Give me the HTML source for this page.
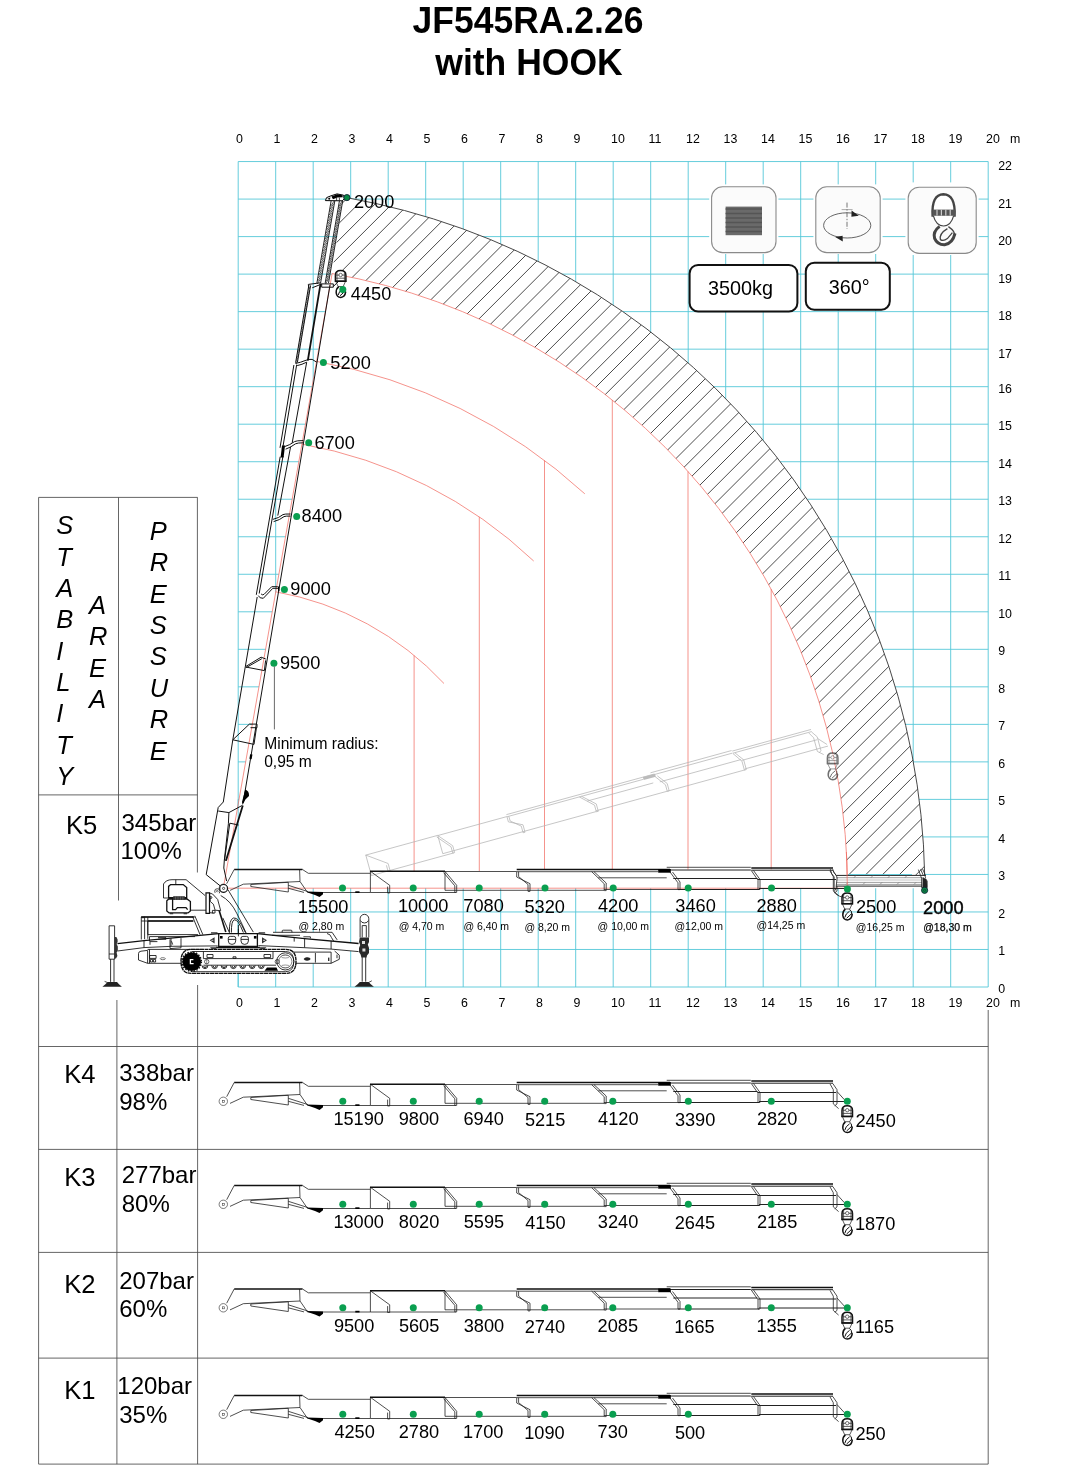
<!DOCTYPE html>
<html><head><meta charset="utf-8"><title>JF545RA.2.26 with HOOK</title>
<style>
html,body{margin:0;padding:0;background:#fff;}
body{width:1080px;height:1467px;overflow:hidden;font-family:"Liberation Sans",sans-serif;}
svg{display:block;will-change:transform;font-family:"Liberation Sans",sans-serif;}
</style></head><body>
<svg width="1080" height="1467" viewBox="0 0 1080 1467">
<rect width="1080" height="1467" fill="#fff"/>
<g font-weight="bold" font-size="35.5" text-anchor="middle" fill="#000" transform="translate(0,-0.6) scale(1,1.025)"><text x="528" y="32.9">JF545RA.2.26</text><text x="529" y="73.3">with HOOK</text></g>
<path d="M238.20 161.56V987.00M275.70 161.56V987.00M313.20 161.56V987.00M350.70 161.56V987.00M388.20 161.56V987.00M425.70 161.56V987.00M463.20 161.56V987.00M500.70 161.56V987.00M538.20 161.56V987.00M575.70 161.56V987.00M613.20 161.56V987.00M650.70 161.56V987.00M688.20 161.56V987.00M725.70 161.56V987.00M763.20 161.56V987.00M800.70 161.56V987.00M838.20 161.56V987.00M875.70 161.56V987.00M913.20 161.56V987.00M950.70 161.56V987.00M988.20 161.56V987.00M238.20 987.00H988.20M238.20 949.48H988.20M238.20 911.96H988.20M238.20 874.44H988.20M238.20 836.92H988.20M238.20 799.40H988.20M238.20 761.88H988.20M238.20 724.36H988.20M238.20 686.84H988.20M238.20 649.32H988.20M238.20 611.80H988.20M238.20 574.28H988.20M238.20 536.76H988.20M238.20 499.24H988.20M238.20 461.72H988.20M238.20 424.20H988.20M238.20 386.68H988.20M238.20 349.16H988.20M238.20 311.64H988.20M238.20 274.12H988.20M238.20 236.60H988.20M238.20 199.08H988.20M238.20 161.56H988.20" stroke="#55c7d8" stroke-width="0.9" fill="none"/>
<g font-size="12.4" fill="#000"><text x="236.1" y="142.7">0</text><text x="236.1" y="1006.5">0</text><text x="273.6" y="142.7">1</text><text x="273.6" y="1006.5">1</text><text x="311.1" y="142.7">2</text><text x="311.1" y="1006.5">2</text><text x="348.6" y="142.7">3</text><text x="348.6" y="1006.5">3</text><text x="386.1" y="142.7">4</text><text x="386.1" y="1006.5">4</text><text x="423.6" y="142.7">5</text><text x="423.6" y="1006.5">5</text><text x="461.1" y="142.7">6</text><text x="461.1" y="1006.5">6</text><text x="498.6" y="142.7">7</text><text x="498.6" y="1006.5">7</text><text x="536.1" y="142.7">8</text><text x="536.1" y="1006.5">8</text><text x="573.6" y="142.7">9</text><text x="573.6" y="1006.5">9</text><text x="611.1" y="142.7">10</text><text x="611.1" y="1006.5">10</text><text x="648.6" y="142.7">11</text><text x="648.6" y="1006.5">11</text><text x="686.1" y="142.7">12</text><text x="686.1" y="1006.5">12</text><text x="723.6" y="142.7">13</text><text x="723.6" y="1006.5">13</text><text x="761.1" y="142.7">14</text><text x="761.1" y="1006.5">14</text><text x="798.6" y="142.7">15</text><text x="798.6" y="1006.5">15</text><text x="836.1" y="142.7">16</text><text x="836.1" y="1006.5">16</text><text x="873.6" y="142.7">17</text><text x="873.6" y="1006.5">17</text><text x="911.1" y="142.7">18</text><text x="911.1" y="1006.5">18</text><text x="948.6" y="142.7">19</text><text x="948.6" y="1006.5">19</text><text x="986.1" y="142.7">20</text><text x="986.1" y="1006.5">20</text><text x="1010" y="142.7">m</text><text x="1010" y="1006.5">m</text><text x="998.2" y="992.6">0</text><text x="998.2" y="954.7">1</text><text x="998.2" y="917.5">2</text><text x="998.2" y="879.7">3</text><text x="998.2" y="842.6">4</text><text x="998.2" y="804.7">5</text><text x="998.2" y="767.6">6</text><text x="998.2" y="729.7">7</text><text x="998.2" y="692.6">8</text><text x="998.2" y="654.7">9</text><text x="998.2" y="617.7">10</text><text x="998.2" y="580.4">11</text><text x="998.2" y="542.9">12</text><text x="998.2" y="504.7">13</text><text x="998.2" y="467.7">14</text><text x="998.2" y="430.2">15</text><text x="998.2" y="392.9">16</text><text x="998.2" y="357.7">17</text><text x="998.2" y="319.8">18</text><text x="998.2" y="282.6">19</text><text x="998.2" y="244.8">20</text><text x="998.2" y="207.6">21</text><text x="998.2" y="169.8">22</text></g>
<path d="M223.3 888.2L332.12 273.56L342.6 199.0L345.60 197.44A701.5 701.5 0 0 1 924.80 888.20L223.3 888.2Z" fill="#fff"/>
<path d="M238.20 799.40V987.00" stroke="#55c7d8" stroke-width="0.9" fill="none"/>
<clipPath id="hc"><path d="M332.12 273.56L342.6 199.0L345.60 197.44A701.5 701.5 0 0 1 924.68 875.00L847.36 875.00A624.2 624.2 0 0 0 332.12 273.56Z"/></clipPath>
<path clip-path="url(#hc)" d="M-438.7 900L311.3 150M-421.9 900L328.1 150M-405.1 900L344.9 150M-388.2 900L361.8 150M-371.4 900L378.6 150M-354.6 900L395.4 150M-337.7 900L412.3 150M-320.9 900L429.1 150M-304.1 900L445.9 150M-287.2 900L462.8 150M-270.4 900L479.6 150M-253.6 900L496.4 150M-236.8 900L513.2 150M-219.9 900L530.1 150M-203.1 900L546.9 150M-186.3 900L563.7 150M-169.4 900L580.6 150M-152.6 900L597.4 150M-135.8 900L614.2 150M-119.0 900L631.0 150M-102.1 900L647.9 150M-85.3 900L664.7 150M-68.5 900L681.5 150M-51.6 900L698.4 150M-34.8 900L715.2 150M-18.0 900L732.0 150M-1.1 900L748.9 150M15.7 900L765.7 150M32.5 900L782.5 150M49.3 900L799.3 150M66.2 900L816.2 150M83.0 900L833.0 150M99.8 900L849.8 150M116.7 900L866.7 150M133.5 900L883.5 150M150.3 900L900.3 150M167.2 900L917.2 150M184.0 900L934.0 150M200.8 900L950.8 150M217.6 900L967.6 150M234.5 900L984.5 150M251.3 900L1001.3 150M268.1 900L1018.1 150M285.0 900L1035.0 150M301.8 900L1051.8 150M318.6 900L1068.6 150M335.5 900L1085.5 150M352.3 900L1102.3 150M369.1 900L1119.1 150M386.0 900L1136.0 150M402.8 900L1152.8 150M419.6 900L1169.6 150M436.4 900L1186.4 150M453.3 900L1203.3 150M470.1 900L1220.1 150M486.9 900L1236.9 150M503.8 900L1253.8 150M520.6 900L1270.6 150M537.4 900L1287.4 150M554.2 900L1304.2 150M571.1 900L1321.1 150M587.9 900L1337.9 150M604.7 900L1354.7 150M621.6 900L1371.6 150M638.4 900L1388.4 150M655.2 900L1405.2 150M672.1 900L1422.1 150M688.9 900L1438.9 150M705.7 900L1455.7 150M722.5 900L1472.5 150M739.4 900L1489.4 150M756.2 900L1506.2 150M773.0 900L1523.0 150M789.9 900L1539.9 150M806.7 900L1556.7 150M823.5 900L1573.5 150M840.4 900L1590.4 150M857.2 900L1607.2 150M874.0 900L1624.0 150M890.8 900L1640.8 150M907.7 900L1657.7 150M924.5 900L1674.5 150M941.3 900L1691.3 150" stroke="#2a2a2a" stroke-width="0.85" fill="none"/>
<path d="M345.60 197.44A701.5 701.5 0 0 1 924.68 875.00" stroke="#333" stroke-width="0.9" fill="none"/>
<path d="M223.3 888.2L332.12 273.56M223.3 888.2H847.4M332.12 273.56A624.2 624.2 0 0 1 847.50 889.00M316.57 361.39A535.0 535.0 0 0 1 584.80 493.81M301.93 444.11A451.0 451.0 0 0 1 533.70 561.01M275.78 591.81A301.0 301.0 0 0 1 444.00 683.52M414.10 655.40V871.0M479.30 516.90V871.0M544.50 460.35V869.4M612.30 400.04V869.4M688.00 471.45V869.4M771.20 589.15V869.4" stroke="#f0645a" stroke-width="0.7" fill="none"/>
<path d="M38.6 497.4V1464.1M38.6 497.4H197.6M38.6 794.9H197.6M118.5 497.4V900.5M197.4 497.4V872.5M116.9 1000V1464.1M197.6 985V1464.1M988.2 1010V1464.1M38.6 1046.5H988.2M38.6 1149.4H988.2M38.6 1252.4H988.2M38.6 1358.1H988.2M38.6 1464.1H988.2" stroke="#4a4a4a" stroke-width="0.85" fill="none"/>
<g font-size="25.5" font-style="italic" fill="#000"><text x="56.2" y="534.4">S</text><text x="56.2" y="565.7">T</text><text x="56.2" y="597.0">A</text><text x="56.2" y="628.3">B</text><text x="56.2" y="659.6">I</text><text x="56.2" y="690.9">L</text><text x="56.2" y="722.2">I</text><text x="56.2" y="753.5">T</text><text x="56.2" y="784.8">Y</text><text x="89" y="614.2">A</text><text x="89" y="645.4">R</text><text x="89" y="676.5">E</text><text x="89" y="707.7">A</text><text x="149.8" y="540.0">P</text><text x="149.8" y="571.4">R</text><text x="149.8" y="602.7">E</text><text x="149.8" y="634.0">S</text><text x="149.8" y="665.4">S</text><text x="149.8" y="696.8">U</text><text x="149.8" y="728.1">R</text><text x="149.8" y="759.5">E</text></g>
<g font-size="24" fill="#000"><text x="65.9" y="834.1" font-size="25.6">K5</text><text x="121.5" y="830.7">345bar</text><text x="120.5" y="859.3">100%</text><text x="64.2" y="1083.1" font-size="25.6">K4</text><text x="119.2" y="1080.5">338bar</text><text x="119.2" y="1109.6">98%</text><text x="64.2" y="1186.0" font-size="25.6">K3</text><text x="121.7" y="1183.0">277bar</text><text x="121.7" y="1211.9">80%</text><text x="64.2" y="1292.6" font-size="25.6">K2</text><text x="119.2" y="1288.5">207bar</text><text x="119.2" y="1317.0">60%</text><text x="64.2" y="1398.5" font-size="25.6">K1</text><text x="117.3" y="1394.4">120bar</text><text x="119.2" y="1422.7">35%</text></g>
<defs><g id="boom"><path d="M226.7 1096.7L234.2 1082.5M302.5 1082.5L308.3 1086.3H370.3M299.6 1082.5L300 1094.5L307.5 1105.4M230 1103.4L243.3 1097.2L300 1094.5M250.8 1097.5L288.3 1095.3V1105L250.8 1099.5ZM288.3 1098.3L308 1104.6M288.3 1101.3L304 1105.4M307.5 1105.5H370.4M370.4 1105.5H455.8M370.4 1084.3V1105.5M370.4 1084.3L389.7 1098.3V1106H387.6V1099.6M445 1084.5H516.7M445 1084.5V1103.3M445 1084.5L456.7 1098.3V1105.4H454.8V1098.8L443.6 1085.6M445 1103.3H604M516.7 1084.7H658M516.7 1084.7V1090L530 1096.7V1104.4H528V1097.5L518.6 1089.6V1084.7M591.7 1084.7L604.2 1096.7V1103.6H606.2V1096L594 1084.7M598.3 1090.8H666.7M604 1102.5H678M666.7 1080.3H750.8M670 1085L678 1095.8V1102.6H680V1095L672.5 1085M751.3 1083.5L758 1093.3V1102.5H760V1092.5L753.5 1083.5M830 1083.9L833.3 1089.7V1103.9L838.6 1108.6M832.8 1083.5L837 1089.7V1103.9L834.8 1105.8M837 1091.5L844.4 1099.7" stroke="#222" stroke-width="0.8" fill="none"/><path d="M670 1083H750.8M673.3 1091.5H757.5M678 1102.5H759M751.3 1083.2H833M758 1092.5H836M759 1101.5H845" stroke="#222" stroke-width="1" fill="none"/><path d="M234.2 1082.5H302.5M370 1084.3H445M516.7 1082.5H670M751.3 1081H833" stroke="#111" stroke-width="1.4" fill="none"/><circle cx="223.3" cy="1101.3" r="4.2" stroke="#444" stroke-width="0.7" fill="#fff"/><rect x="222.3" y="1100.3" width="2" height="2" stroke="#444" stroke-width="0.6" fill="none"/><path d="M306.5 1104.6L323 1105V1107.2L319.5 1110L315 1108L309 1106Z" fill="#000"/><rect x="355.3" y="1104.3" width="4.2" height="1.7" fill="#000"/><rect x="658.2" y="1082" width="12.6" height="3.7" fill="#000"/></g><g id="hook"><path d="M842 1116.4V1110.6Q842 1105.8 847.2 1105.8Q852.5 1105.8 852.5 1110.6V1116.4Z" stroke="#111" stroke-width="1.5" fill="#fff"/><path d="M842 1110.3H852.5M842 1113.4H852.5M842.3 1116.4L844.7 1121.7H849.8L852.2 1116.4M843.6 1107.5V1116M851 1107.5V1116" stroke="#333" stroke-width="0.8" fill="none"/><path d="M841.6 1116.4H852.9" stroke="#111" stroke-width="1.3"/><circle cx="847.2" cy="1110.2" r="1.7" stroke="#333" stroke-width="0.7" fill="#fff"/><path d="M845.4 1121.9Q842.6 1124 842.8 1128Q843.4 1132.4 847.4 1132.6Q851.6 1132.2 852.2 1127.4L851.4 1126.2" stroke="#111" stroke-width="1.5" fill="none"/><path d="M849.4 1122Q852 1123.4 851.6 1126.4L846.6 1131M849.6 1123.8Q845.4 1126.4 844.8 1130.2" stroke="#111" stroke-width="1" fill="none"/></g></defs>
<g font-size="18.2" fill="#000"><use href="#boom" y="0"/><use href="#hook" y="0"/><circle cx="342.8" cy="1101.3" r="3.5" fill="#0a9f50"/><circle cx="413.3" cy="1101.3" r="3.5" fill="#0a9f50"/><circle cx="479.2" cy="1101.3" r="3.5" fill="#0a9f50"/><circle cx="544.7" cy="1101.3" r="3.5" fill="#0a9f50"/><circle cx="612.8" cy="1101.3" r="3.5" fill="#0a9f50"/><circle cx="688.3" cy="1101.3" r="3.5" fill="#0a9f50"/><circle cx="771.3" cy="1101.3" r="3.5" fill="#0a9f50"/><circle cx="847.3" cy="1101.3" r="3.5" fill="#0a9f50"/><text x="333.4" y="1125.2">15190</text><text x="398.7" y="1125.2">9800</text><text x="463.5" y="1125.2">6940</text><text x="524.9" y="1126.2">5215</text><text x="598.1" y="1125.2">4120</text><text x="674.9" y="1126.2">3390</text><text x="756.9" y="1125.2">2820</text><text x="855.4" y="1126.9">2450</text><use href="#boom" y="103.0"/><use href="#hook" y="103.0"/><circle cx="342.8" cy="1204.3" r="3.5" fill="#0a9f50"/><circle cx="413.3" cy="1204.3" r="3.5" fill="#0a9f50"/><circle cx="479.2" cy="1204.3" r="3.5" fill="#0a9f50"/><circle cx="544.7" cy="1204.3" r="3.5" fill="#0a9f50"/><circle cx="612.8" cy="1204.3" r="3.5" fill="#0a9f50"/><circle cx="688.3" cy="1204.3" r="3.5" fill="#0a9f50"/><circle cx="771.3" cy="1204.3" r="3.5" fill="#0a9f50"/><circle cx="847.3" cy="1204.3" r="3.5" fill="#0a9f50"/><text x="333.4" y="1228.2">13000</text><text x="398.8" y="1228.2">8020</text><text x="463.7" y="1228.2">5595</text><text x="525.2" y="1229.2">4150</text><text x="597.8" y="1228.2">3240</text><text x="674.7" y="1229.2">2645</text><text x="756.9" y="1228.2">2185</text><text x="854.9" y="1229.9">1870</text><use href="#boom" y="206.5"/><use href="#hook" y="206.5"/><circle cx="342.8" cy="1307.8" r="3.5" fill="#0a9f50"/><circle cx="413.3" cy="1307.8" r="3.5" fill="#0a9f50"/><circle cx="479.2" cy="1307.8" r="3.5" fill="#0a9f50"/><circle cx="544.7" cy="1307.8" r="3.5" fill="#0a9f50"/><circle cx="612.8" cy="1307.8" r="3.5" fill="#0a9f50"/><circle cx="688.3" cy="1307.8" r="3.5" fill="#0a9f50"/><circle cx="771.3" cy="1307.8" r="3.5" fill="#0a9f50"/><circle cx="847.3" cy="1307.8" r="3.5" fill="#0a9f50"/><text x="333.9" y="1331.7">9500</text><text x="398.9" y="1331.7">5605</text><text x="463.7" y="1331.7">3800</text><text x="524.7" y="1332.7">2740</text><text x="597.6" y="1331.7">2085</text><text x="674.2" y="1332.7">1665</text><text x="756.4" y="1331.7">1355</text><text x="854.9" y="1333.4">1165</text><use href="#boom" y="313.0"/><use href="#hook" y="313.0"/><circle cx="342.8" cy="1414.3" r="3.5" fill="#0a9f50"/><circle cx="413.3" cy="1414.3" r="3.5" fill="#0a9f50"/><circle cx="479.2" cy="1414.3" r="3.5" fill="#0a9f50"/><circle cx="544.7" cy="1414.3" r="3.5" fill="#0a9f50"/><circle cx="612.8" cy="1414.3" r="3.5" fill="#0a9f50"/><circle cx="688.3" cy="1414.3" r="3.5" fill="#0a9f50"/><circle cx="847.3" cy="1414.3" r="3.5" fill="#0a9f50"/><text x="334.4" y="1438.2">4250</text><text x="398.7" y="1438.2">2780</text><text x="463.0" y="1438.2">1700</text><text x="524.2" y="1439.2">1090</text><text x="597.6" y="1438.2">730</text><text x="674.9" y="1439.2">500</text><text x="855.4" y="1439.9">250</text></g>
<g transform="translate(365.8,855.1) rotate(-15.35) translate(-370.4,-1084.3)"><path d="M370.4 1105.5H455.8M370.4 1084.3V1105.5M370.4 1084.3L389.7 1098.3V1106H387.6V1099.6M445 1084.5H516.7M445 1084.5V1103.3M445 1084.5L456.7 1098.3V1105.4H454.8V1098.8L443.6 1085.6M445 1103.3H604M516.7 1084.7H658M516.7 1084.7V1090L530 1096.7V1104.4H528V1097.5L518.6 1089.6V1084.7M591.7 1084.7L604.2 1096.7V1103.6H606.2V1096L594 1084.7M598.3 1090.8H666.7M604 1102.5H678M666.7 1080.3H750.8M670 1085L678 1095.8V1102.6H680V1095L672.5 1085M751.3 1083.5L758 1093.3V1102.5H760V1092.5L753.5 1083.5M830 1083.9L833.3 1089.7V1103.9L838.6 1108.6M832.8 1083.5L837 1089.7V1103.9L834.8 1105.8M837 1091.5L844.4 1099.7M670 1083H750.8M673.3 1091.5H757.5M678 1102.5H759M751.3 1083.2H833M758 1092.5H836M759 1101.5H845M370 1084.3H445M516.7 1082.5H670M751.3 1081H833" stroke="#b4b4b4" stroke-width="0.7" fill="none"/><rect x="658.2" y="1082.4" width="12.6" height="3" fill="#bbb"/></g>
<g transform="translate(-14.6,-352.8)" opacity="0.6"><use href="#hook"/></g>
<g font-size="18.2" fill="#000"><use href="#boom" y="-213.0"/><g><rect x="836.2" y="875.3" width="89.7" height="10.8" fill="#fff"/><path d="M836.2 877.7H924M836.2 882.4H922M836.2 884.4H922" stroke="#777" stroke-width="0.7" fill="none"/><path d="M836.2 880H924" stroke="#aaa" stroke-width="0.7" fill="none"/><path d="M836.2 875.4H925.9M836 886.1H922" stroke="#222" stroke-width="1" fill="none"/><path d="M846 884.4l2-2M863 884.4l2-2M880 884.4l2-2M897 884.4l2-2M914 884.4l2-2M854 877.7l2-2.3M871 877.7l2-2.3M888 877.7l2-2.3M905 877.7l2-2.3" stroke="#666" stroke-width="0.6"/><path d="M832.8 869.2Q833.5 873 836.4 875.6L837.2 878L836.2 886.1V888.5L834 891.6Q836 895.5 842.6 897.2M830.3 869.2Q831 874 834.2 877V889.8" stroke="#222" stroke-width="0.8" fill="none"/><path d="M918.4 869.6L921.6 878.4L924.6 880M920.6 869.3L923.4 875.6M922.6 869L924.8 874L925.6 878.6M921.6 878.4V887.6H927.2V880.6" stroke="#222" stroke-width="0.8" fill="none"/><path d="M923.2 877.5L926.8 879.5L927.2 888H922.4L922.6 881Z" fill="#222"/></g><path d="M848.5 874.5H912" stroke="#55c7d8" stroke-width="0.9"/><path d="M846.4 852Q847 872 847.4 888" stroke="#f0645a" stroke-width="0.7" fill="none"/><use href="#hook" y="-212.7"/><circle cx="342.5" cy="888" r="3.5" fill="#0a9f50"/><circle cx="413.2" cy="888" r="3.5" fill="#0a9f50"/><circle cx="479.2" cy="888" r="3.5" fill="#0a9f50"/><circle cx="545" cy="888" r="3.5" fill="#0a9f50"/><circle cx="613.2" cy="888" r="3.5" fill="#0a9f50"/><circle cx="688.2" cy="888" r="3.5" fill="#0a9f50"/><circle cx="771.5" cy="888" r="3.5" fill="#0a9f50"/><circle cx="847.4" cy="889" r="3.5" fill="#0a9f50"/><circle cx="924.6" cy="890.3" r="3.1" fill="#0a8a45" stroke="#123" stroke-width="0.9"/><circle cx="924.6" cy="890.3" r="1.1" fill="none" stroke="#123" stroke-width="0.5"/><text x="297.8" y="912.7">15500</text><text x="298.5" y="930.0" font-size="10.5">@ 2,80 m</text><text x="397.9" y="912.3">10000</text><text x="398.7" y="930.0" font-size="10.5">@ 4,70 m</text><text x="463.3" y="912.3">7080</text><text x="463.4" y="930.0" font-size="10.5">@ 6,40 m</text><text x="524.5" y="913.3">5320</text><text x="524.4" y="930.7" font-size="10.5">@ 8,20 m</text><text x="598.0" y="912.3">4200</text><text x="597.6" y="930.0" font-size="10.5">@ 10,00 m</text><text x="675.3" y="912.3">3460</text><text x="674.4" y="930.0" font-size="10.5">@12,00 m</text><text x="756.5" y="911.8">2880</text><text x="756.6" y="929.4" font-size="10.5">@14,25 m</text><text x="855.9" y="913.3">2500</text><text x="855.8" y="931.0" font-size="10.5">@16,25 m</text><g stroke="#111" stroke-width="0.45"><text x="923.1" y="913.6">2000</text></g><g stroke="#111" stroke-width="0.25"><text x="923.2" y="931.0" font-size="10.5">@18,30 m</text></g></g>
<path d="M330.0 285.0L243.1 803.0M308.9 285.0L295.6 362.8M310.6 285.4L297.4 362.4M293.9 365.0L280.0 447.8M296.7 364.6L282.9 447.0M280.2 456.7L256.3 594.8M283.0 456.0L259.2 593.5M257.2 597.0L245.3 666.7M245.3 666.7L232.8 739.8M232.8 739.8L223.3 802.0M306.7 362.2L292.2 442.8M290.6 446.7L277.8 515.6M308.9 288.4L308.3 284.4L320.6 282.8M312.2 287.8L321.7 284M321.7 283.9H333.3V287.2H321.7ZM333.3 286.5L340.4 279.6M295.6 363.4Q301 362.4 305 360.6T312.2 359.4L316.7 362.2M297.2 365.6Q302 364.6 306.7 362.2M284.4 446.7Q290 445 294.5 441.6Q296.5 440.5 303.3 440.6M285.6 449.2Q291 447.2 295.5 443.8Q297.5 442.8 303.3 442.8M272.8 519.4Q279 518 283 514.6Q284.6 513.8 290.6 514M273.6 521.6Q280 520 284 516.6Q285.6 515.9 290.6 516.1M258.3 595.6Q259.5 598.6 263.3 598.3L272.8 588.3H278.3M261.1 593.9Q262 595.5 264 594.4L271.7 586.7H277.8M245.6 666.6L261.1 657.2L265.8 659M246.2 667.6L261.8 658.7M245.6 667L264.4 670.6L265.6 660.4M232.8 739.8L249.4 724.1H257V727.7H250.5M232.8 739.8L254 744.4L256.4 728M223.3 802L218.2 807.5L206.2 874.6L220.6 886.2M218.2 811L228.9 812.6L241.9 805.6M228.9 812.6L228.4 823.7L224.3 860.3L223.8 868L226.6 881M229.8 823.2L238.6 825M229.8 823.2L224.5 860.3H227" stroke="#111" stroke-width="1" fill="none"/>
<path d="M320.6 283.3L307.8 360.6M242.8 805.6L226.1 860.3" stroke="#111" stroke-width="1.8" fill="none"/>
<path d="M282 445.6L285 445.6L283.6 457.4L280.6 457.4Z" fill="#000"/>
<path d="M278 586.6h1.4v4.6h-1.4z" fill="#000"/>
<path d="M245.2 789.6Q249.4 791 249 796L245.4 799.4L242.6 805L242 802Z" fill="#000"/>
<path d="M251.3 754.4L250.5 759" stroke="#000" stroke-width="2.3"/>
<path d="M331.1 201.0L316.9 283.0M334.8 201.0L320.6 283.0M339.4 201.0L325.2 283.0M342.7 201.0L328.5 283.0" stroke="#111" stroke-width="0.9" fill="none"/>
<path d="M330.8 206.0L334.5 200.5M339.1 206.0L342.4 200.5M330.2 209.0L333.9 203.5M338.5 209.0L341.8 203.5M329.7 212.0L333.4 206.5M338.0 212.0L341.3 206.5M329.2 215.0L332.9 209.5M337.5 215.0L340.8 209.5M328.7 218.0L332.4 212.5M337.0 218.0L340.3 212.5M328.2 221.0L331.9 215.5M336.5 221.0L339.8 215.5M327.6 224.0L331.3 218.5M335.9 224.0L339.2 218.5M327.1 227.0L330.8 221.5M335.4 227.0L338.7 221.5M326.6 230.0L330.3 224.5M334.9 230.0L338.2 224.5M326.1 233.0L329.8 227.5M334.4 233.0L337.7 227.5M325.6 236.0L329.3 230.5M333.9 236.0L337.2 230.5M325.0 239.0L328.7 233.5M333.3 239.0L336.6 233.5M324.5 242.0L328.2 236.5M332.8 242.0L336.1 236.5M324.0 245.0L327.7 239.5M332.3 245.0L335.6 239.5M323.5 248.0L327.2 242.5M331.8 248.0L335.1 242.5M323.0 251.0L326.7 245.5M331.3 251.0L334.6 245.5M322.4 254.0L326.1 248.5M330.7 254.0L334.0 248.5M321.9 257.0L325.6 251.5M330.2 257.0L333.5 251.5M321.4 260.0L325.1 254.5M329.7 260.0L333.0 254.5M320.9 263.0L324.6 257.5M329.2 263.0L332.5 257.5M320.4 266.0L324.1 260.5M328.7 266.0L332.0 260.5M319.8 269.0L323.5 263.5M328.1 269.0L331.4 263.5M319.3 272.0L323.0 266.5M327.6 272.0L330.9 266.5M318.8 275.0L322.5 269.5M327.1 275.0L330.4 269.5M318.3 278.0L322.0 272.5M326.6 278.0L329.9 272.5M317.8 281.0L321.5 275.5M326.1 281.0L329.4 275.5M317.2 284.0L320.9 278.5M325.5 284.0L328.8 278.5" stroke="#111" stroke-width="0.7" fill="none"/>
<path d="M308.4 290.4L310.2 286.8M307.8 293.6L309.6 290.0M307.3 296.8L309.1 293.2M306.7 300.0L308.5 296.4M306.2 303.2L308.0 299.6M305.7 306.4L307.5 302.8M305.1 309.6L306.9 306.0M304.6 312.8L306.4 309.2M304.0 316.0L305.8 312.4M303.5 319.2L305.3 315.6M302.9 322.4L304.7 318.8M302.4 325.6L304.2 322.0M301.8 328.8L303.6 325.2M301.3 332.0L303.1 328.4M300.7 335.2L302.5 331.6M300.2 338.4L302.0 334.8M299.6 341.6L301.4 338.0M299.1 344.8L300.9 341.2M298.5 348.0L300.3 344.4M298.0 351.2L299.8 347.6M297.4 354.4L299.2 350.8M296.9 357.6L298.7 354.0M296.3 360.8L298.1 357.2M295.8 364.0L297.6 360.4" stroke="#111" stroke-width="0.6" fill="none"/>
<path d="M325.4 200.6L326.6 197.6L331 195.8L337 193.9L343.6 195.2L344.4 198.8L342.2 200.8Z" stroke="#000" stroke-width="1" fill="#fff"/>
<path d="M331.4 196.6L337.2 194.2L342.4 195.2L342.8 197.2L337.4 197.6L333 199.2ZM327.2 199L330.4 197.2L330 199.8Z" fill="#000"/>
<path d="M336.6 198v2.6M339.4 197.6v3" stroke="#000" stroke-width="0.7"/>
<circle cx="217.3" cy="891.3" r="2.6" stroke="#222" stroke-width="0.8" fill="#fff"/><circle cx="217.3" cy="891.3" r="0.9" stroke="#222" stroke-width="0.6" fill="none"/>
<circle cx="223.6" cy="888.4" r="3.9" stroke="#111" stroke-width="1.2" fill="#fff"/><circle cx="223.6" cy="888.4" r="1.1" stroke="#111" stroke-width="0.7" fill="none"/>
<use href="#hook" transform="translate(-506.6,-835.2)"/>
<g font-size="18.2" fill="#000"><circle cx="346.9" cy="197.6" r="3.1" fill="#0a8a45" stroke="#123" stroke-width="0.9"/><text x="353.9" y="208.0">2000</text><circle cx="342.8" cy="289.4" r="3.5" fill="#0a9f50"/><text x="350.8" y="299.8">4450</text><circle cx="323.4" cy="362.4" r="3.5" fill="#0a9f50"/><text x="330.3" y="368.8">5200</text><circle cx="308.7" cy="442.8" r="3.5" fill="#0a9f50"/><text x="314.4" y="449.1">6700</text><circle cx="296.7" cy="516.6" r="3.5" fill="#0a9f50"/><text x="301.6" y="522.2">8400</text><circle cx="284.4" cy="589.4" r="3.5" fill="#0a9f50"/><text x="290.3" y="595.2">9000</text><circle cx="273.9" cy="663.3" r="3.5" fill="#0a9f50"/><text x="279.9" y="668.9">9500</text></g>
<path d="M274.4 666.5V729.4" stroke="#444" stroke-width="0.8"/>
<g font-size="15.6" fill="#000"><text x="264.2" y="749">Minimum radius:</text><text x="264.2" y="767.4">0,95 m</text></g>
<g><path d="M139 917H196L203 934L218.7 933.7H257.4L273 932.3H332L340 940L359 943.5V951.8L339.5 950V960L331 963.5H296V966Q296 973.6 288 973.6H189Q181 973.6 181 963.5H147L138.5 960V952L117.5 951V943.5L141 941Z" fill="#fff"/><path d="M163.5 884Q166 879.7 172 879.7H186.1L205 895.5H209.5L217 892L220 894L226 932.5H225.5L219 911L206 913.5V910.2H190.4V913H166.8V899H163.5Z" fill="#fff"/><rect x="109.1" y="925.8" width="5.5" height="56" fill="#fff"/><rect x="360.1" y="916" width="8.7" height="66" fill="#fff"/><path d="M191 949.4H286Q296 949.4 296 961.4Q296 973.4 286 973.4H191Q181 973.4 181 961.4Q181 949.4 191 949.4Z" stroke="#111" stroke-width="1.4" stroke-dasharray="4 0.5" fill="#fff"/><path d="M192 951.5H285.5Q293.8 951.5 293.8 961.6Q293.8 971.7 285.5 971.7H192" stroke="#111" stroke-width="0.85" fill="none"/><path d="M203.4 951.5V958.6M203.4 958.6H273M203.4 965.2H276M207 954.5H213V957.6H207ZM264 954.5H270.6V957.6H264ZM273 951.5V958.6M233 956.8h3v1.5h-3z" stroke="#111" stroke-width="0.85" fill="none"/><path d="M202.1 965.4A2.9 3.2 0 0 0 207.9 965.4M203.7 966A1.3 1.6 0 0 0 206.3 966M211.7 965.4A2.9 3.2 0 0 0 217.5 965.4M213.3 966A1.3 1.6 0 0 0 215.9 966M221.1 965.4A2.9 3.2 0 0 0 226.9 965.4M222.7 966A1.3 1.6 0 0 0 225.3 966M230.5 965.4A2.9 3.2 0 0 0 236.3 965.4M232.1 966A1.3 1.6 0 0 0 234.7 966M239.8 965.4A2.9 3.2 0 0 0 245.6 965.4M241.4 966A1.3 1.6 0 0 0 244.0 966M249.3 965.4A2.9 3.2 0 0 0 255.1 965.4M250.9 966A1.3 1.6 0 0 0 253.5 966M258.4 965.4A2.9 3.2 0 0 0 264.2 965.4M260.0 966A1.3 1.6 0 0 0 262.6 966" stroke="#111" stroke-width="0.9" fill="none"/><circle cx="206.7" cy="961.7" r="2.2" stroke="#222" stroke-width="0.7" fill="#fff"/><circle cx="277.3" cy="961.7" r="2.2" stroke="#222" stroke-width="0.7" fill="#fff"/><path d="M206.7 959.5V964M277.3 959.5V964" stroke="#222" stroke-width="0.5"/><path d="M264.5 970.8L267 967.6H276.5L278 970.8Z" fill="#000"/><circle cx="191.7" cy="961.7" r="9.4" fill="#000"/><circle cx="191.7" cy="961.7" r="9.6" stroke="#111" stroke-width="1.6" stroke-dasharray="1.5 1.4" fill="none"/><path d="M193.4 959.6H190.4V963.6H193.6" stroke="#fff" stroke-width="1.3" fill="none"/><circle cx="285.3" cy="961.4" r="8.6" stroke="#111" stroke-width="0.85" fill="none"/><circle cx="285.3" cy="961.4" r="6.6" stroke="#555" stroke-width="0.7" fill="none"/><ellipse cx="285.3" cy="956.6" rx="4.2" ry="1.4" stroke="#555" stroke-width="0.6" fill="none"/><ellipse cx="285.3" cy="966.4" rx="4.2" ry="1.4" stroke="#555" stroke-width="0.6" fill="none"/><path d="M218.7 933.7H257.4V946.4H218.7ZM216 947.5H260" stroke="#111" stroke-width="1.3" fill="none"/><path d="M228.3 938.2Q228.3 936.4 230.2 936.4H233.8Q235.7 936.4 235.7 938.2V941Q235.7 944.4 232 944.4Q228.3 944.4 228.3 941ZM228.3 939.4H235.7M241 938.2Q241 936.4 242.9 936.4H246.5Q248.4 936.4 248.4 938.2V941Q248.4 944.4 244.7 944.4Q241 944.4 241 941ZM241 939.4H248.4M238.4 929V936.4" stroke="#111" stroke-width="0.85" fill="none"/><rect x="220" y="936" width="2.6" height="2.6" fill="#000"/><rect x="253.9" y="936" width="2.6" height="2.6" fill="#000"/><path d="M209.6 940.3L214.6 937.2V943.4ZM267 940.3L262 937.2V943.4Z" fill="#333"/><path d="M211.4 940.3h2M263 940.3h2" stroke="#fff" stroke-width="0.8"/><path d="M210 947.2h7.4l-1.6 1.7h-4.2zM259 947.2h7.4l-1.6 1.7h-4.2zM211 932.2h6.5v1.3H211zM258.6 932.2h6.5v1.3h-6.5z" fill="#333"/><path d="M117.5 943.7L144 940.7L218.7 933.7" stroke="#111" stroke-width="1.3" fill="none"/><path d="M117.5 951L144 947.6L172 946.3L217.7 945.9M144 940.7V947.6M171 938.2V946.3M171.5 941.2l1.2 3.4" stroke="#111" stroke-width="0.85" fill="none"/><path d="M170 939.3V948.6M181 938.2V947.8M170 948.6L181 947.8M150 941.6h7.4M150 941.6v3.2" stroke="#111" stroke-width="0.85" fill="none"/><path d="M257.4 933.7L304.6 938.6L358.6 943.5" stroke="#111" stroke-width="1.3" fill="none"/><path d="M258.4 945.6L304.6 947.7L331.1 949.1L358.6 951.6M304.6 938.6V947.7M331.1 941V949.1M303.4 936.8h7v1.6M294.2 937.6V941.6" stroke="#111" stroke-width="0.85" fill="none"/><path d="M109.1 925.8H114.6V959.2H109.1ZM109.1 954H114.6M110.6 959.2V981.9M114 959.2V981.9" stroke="#111" stroke-width="0.85" fill="none"/><path d="M102.4 986.8L105.4 984.2L107.6 982H117L119 984.2L121.9 986.8Z" fill="#222"/><path d="M104.6 981.4l3 1.2" stroke="#222" stroke-width="0.8"/><path d="M114.6 937H116.4L117.6 939.4V942L116.6 944L117.8 946.6V950.4L116.6 952.6L117.4 956L116 958.4H114.6Z" fill="#333"/><path d="M360.1 937.4V918.7A4.35 4.35 0 0 1 368.8 918.7V937.4M360.5 920.6A4.2 3.6 0 0 0 368.4 920.6M362.2 925.6V937.4M366.3 925.6V937.4M362.2 925.6H366.3M362.2 957V981.7M365.7 957V981.7" stroke="#111" stroke-width="0.85" fill="none"/><path d="M359.8 937.4H369V942L367.8 944.6L369 948V953L367 955.4L366.6 957.4H361.4L360.6 954.6L359 952V948L360.2 945L359 942Z" fill="#2a2a2a"/><path d="M362 941h3v3h-3zM362.4 948.4h3v3h-3z" fill="#ddd"/><path d="M354.5 986.8L357.6 984.2L359.8 982H368.6L370.8 984.2L373.9 986.8Z" fill="#222"/><path d="M368.4 982.6l3.4-1.8" stroke="#222" stroke-width="0.8"/><path d="M141.3 939.5V917H193.2M141.3 921H193.2M147.8 917V938.8M144.6 917V939.2M147.8 921V934.6H198M141.3 917Q143 919 144.6 917M194.8 915.8L202.9 934.7M192.6 916.6L200 934.6M149.5 936.6H195M149.5 936.6V941.5M158 939.2h8v-1.6h-8" stroke="#111" stroke-width="0.85" fill="none"/><path d="M141.3 917H194.5M148 921H193.4" stroke="#111" stroke-width="1.3" fill="none"/><path d="M147.6 949.4H203.4M138.5 953.6Q138.5 951.5 141 951.2L147.6 950.4V963.3L138.5 960ZM147.6 963.3H181M149.6 955.5H156.1V958.4H149.6ZM150.4 959.4h2.2v2.6h-2.2zM153.4 959.4h2.2v2.6h-2.2zM149.5 949.4V963.3" stroke="#111" stroke-width="0.85" fill="none"/><ellipse cx="162.8" cy="958.7" rx="2.6" ry="1" stroke="#222" stroke-width="0.6" fill="none"/><path d="M273 932.3H332.1L337.2 939.9M282.2 932.3V930.9Q282.2 930.2 283.2 930.2H291Q291.9 930.2 291.9 930.9V932.3M272 935.3H300M327 933.5Q330.5 934 331.5 937.6L333.6 941" stroke="#111" stroke-width="0.85" fill="none"/><path d="M293.4 952.1H331.1M296 963.3H331.1L339.3 959.3V955.2L334.6 951M331.1 952.1V963.3M337 954.6v3.6M315.4 953v9.6" stroke="#111" stroke-width="0.85" fill="none"/><path d="M303.6 959Q305 957 307 957.2Q310 957 310.7 959Q309.6 960.9 307 960.8Q304.6 960.9 303.6 959Z" fill="#222"/><rect x="328" y="957.6" width="1.4" height="3.4" fill="#333"/><path d="M163.5 898V884Q166 879.7 172 879.7H186.1L205 895.5M175.8 879.7V884.6M190.4 910.2H206M163.5 898H168" stroke="#111" stroke-width="0.85" fill="none"/><path d="M170.6 884.6H183.2L186.7 887.6V897.6H168.6V886.4ZM168.8 899H187L190.4 901.6V911L188 912.9H169L166.8 911V900.8ZM172.6 899.4V909.6H175.6L177.4 907.6H186L187.6 909.6" stroke="#111" stroke-width="1.3" fill="none"/><rect x="173.2" y="896.2" width="11.6" height="3.6" fill="#333"/><path d="M175.6 896.2v3.6M178 896.2v3.6M180.4 896.2v3.6M182.8 896.2v3.6" stroke="#888" stroke-width="0.5"/><path d="M169.8 912.9h3.4v1.3h-3.4zM183.6 912.9h3.4v1.3h-3.4z" fill="#333"/><path d="M206 892.9H209.5V913.3H206Z" stroke="#111" stroke-width="1.2" fill="#fff"/><path d="M209.5 893L212.6 894L217.7 899.5L220.7 910.7L215.1 910.2L213.4 904.2L210.4 901.6ZM209.5 912.6L213.6 913.2M212.4 910.4h2.6v2.6h-2.6z" stroke="#111" stroke-width="0.85" fill="none"/><circle cx="210.9" cy="897.5" r="1" stroke="#111" stroke-width="0.85" fill="none"/><path d="M220.7 895.5Q231 901 237 913.8Q242.6 925 246.2 933.2M227.9 889.6L253.3 932.1M222.8 917.9L229.4 932.6M238.4 925v8" stroke="#111" stroke-width="0.85" fill="none"/><path d="M219.2 910.7L225.8 932.1" stroke="#111" stroke-width="1.6" fill="none"/><path d="M229.4 932.6Q229 919.5 233.4 918Q238.4 916.6 245.4 932.6M231.4 932.6Q231.2 921 234.2 919.8Q238 919 243.4 932.6" stroke="#111" stroke-width="0.9" fill="none"/></g>
<g><rect x="709.2" y="184.4" width="69.2" height="69.6" fill="#fff"/><rect x="813.4" y="184.4" width="69.2" height="69.6" fill="#fff"/><rect x="905.4" y="182.4" width="73.2" height="72.6" fill="#fff"/><rect x="711.6" y="186.8" width="64.4" height="65.8" rx="11" stroke="#8a8a8a" stroke-width="1.1" fill="#fbfbfb"/><rect x="815.8" y="186.8" width="64.4" height="65.8" rx="11" stroke="#8a8a8a" stroke-width="1.1" fill="#fbfbfb"/><rect x="908.2" y="187.2" width="68" height="66.2" rx="11" stroke="#8a8a8a" stroke-width="1.1" fill="#fbfbfb"/><rect x="725.6" y="206.6" width="36.4" height="28.6" fill="#6a6a6a"/><path d="M725.6 209H762M725.6 213.5H762M725.6 218H762M725.6 222.5H762M725.6 227H762M725.6 231.5H762" stroke="#555" stroke-width="1.6"/><ellipse cx="847.2" cy="225.4" rx="23.6" ry="12.6" stroke="#555" stroke-width="0.9" fill="none"/><path d="M847 202.6V229" stroke="#555" stroke-width="0.8" stroke-dasharray="5 1.6 1.4 1.6"/><path d="M841.6 209.6H852.6" stroke="#777" stroke-width="0.6"/><path d="M851.6 210.4L858.8 215.8L851.4 216.8Z" fill="#222"/><path d="M842.8 241.4L835.2 237L842.6 235.8Z" fill="#222"/><path d="M932.6 215.6Q931.4 194.6 943.4 194.2Q955.6 194.6 954.6 215.6Z" stroke="#444" stroke-width="2.4" fill="#fff"/><path d="M932.4 209.6H955V215.8H932.4Z" fill="#555"/><path d="M937 209.6v6M941.4 209.6v6M945.8 209.6v6M950.2 209.6v6" stroke="#ccc" stroke-width="1.2"/><path d="M933.4 215.8Q936 225.6 943.6 226Q951 225.6 953.6 215.8" stroke="#444" stroke-width="1.2" fill="#fff"/><path d="M939.6 226.4Q932.6 231.6 934.6 238.4Q937.4 245 944.6 244.8Q952.6 243.6 955 233.4" stroke="#444" stroke-width="3" fill="none"/><path d="M948.4 226.6Q955.4 231.4 954.6 236M947.4 228.6Q939 233.6 940.4 239.6Q943.4 241.6 947.4 238.6L952.4 232.6" stroke="#444" stroke-width="1.3" fill="none"/><rect x="689.6" y="264.9" width="107.8" height="46.6" rx="8.5" stroke="#111" stroke-width="2" fill="#fff"/><rect x="805.8" y="262.7" width="84" height="47" rx="8.5" stroke="#111" stroke-width="2" fill="#fff"/><g font-size="19.8" fill="#000"><text x="708" y="295">3500kg</text><text x="828.8" y="293.6">360°</text></g></g>
<!--TEXTS-->
</svg>
</body></html>
